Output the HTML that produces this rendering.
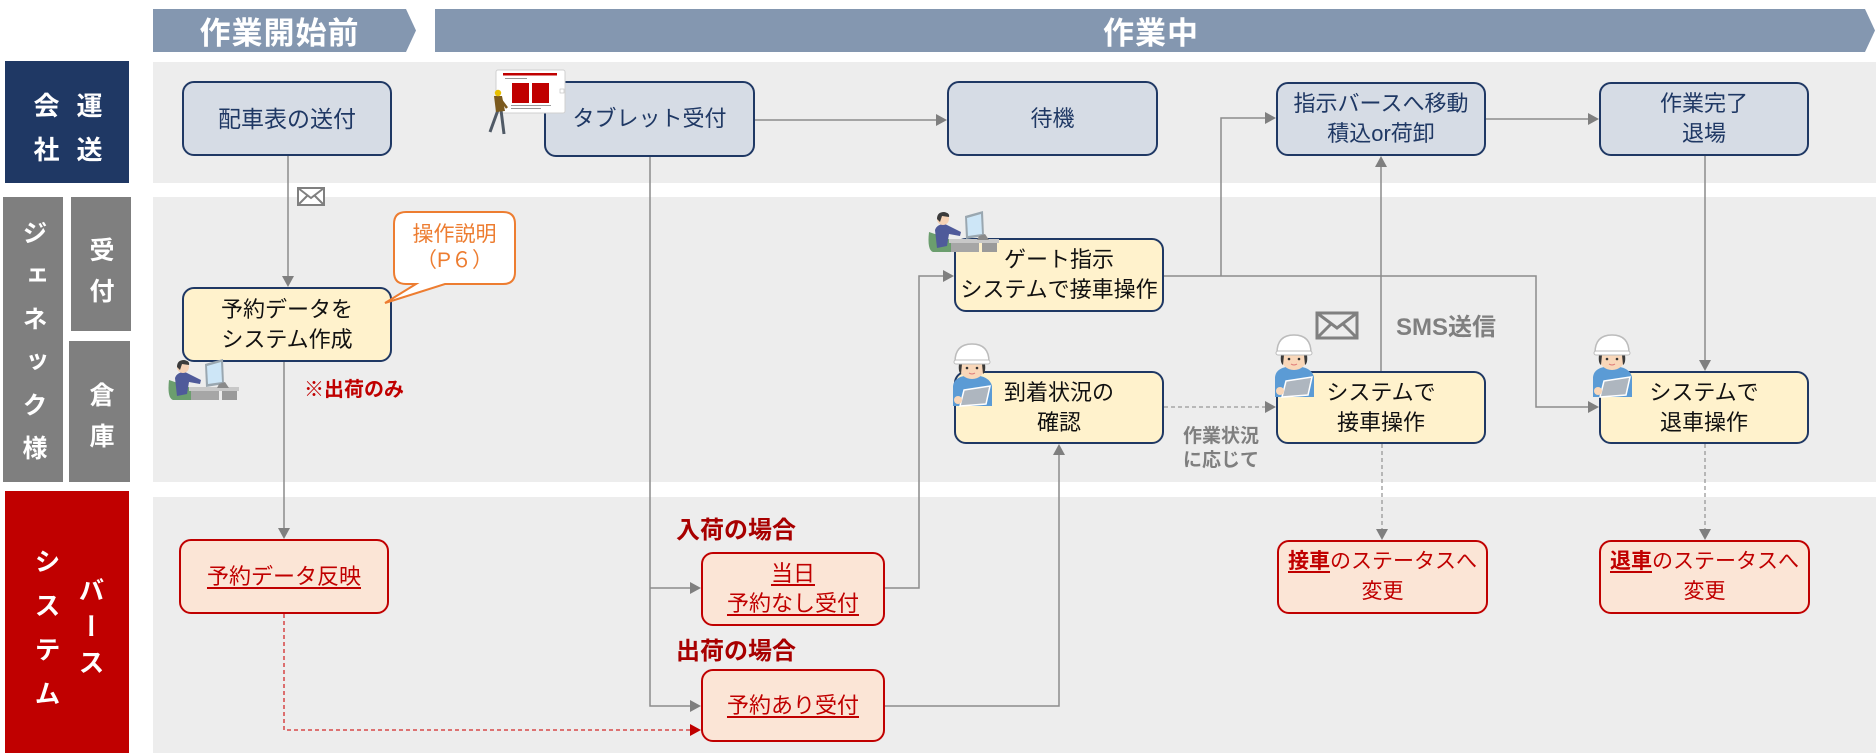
<!DOCTYPE html>
<html><head><meta charset="utf-8">
<style>
*{margin:0;padding:0;box-sizing:border-box}
body{width:1876px;height:753px;background:#fff;position:relative;overflow:hidden;font-family:"Liberation Sans","Noto Sans CJK JP",sans-serif}
.lane{position:absolute;background:#EDEDED;left:153px;width:1723px}
.box{position:absolute}
.v{position:absolute;writing-mode:vertical-rl;color:#fff;font-weight:bold;font-size:25px;line-height:25px;width:25px;white-space:nowrap}
.n{position:absolute;border:2px solid #1F3864;border-radius:12px;display:flex;align-items:center;justify-content:center;text-align:center;font-size:22px;line-height:30px;white-space:nowrap}
.n1{background:#D6DCE5;color:#1F3864}
.n2{background:#FFF2CC;color:#111}
.n3{background:#FBE5D6;color:#C00000;border-color:#C00000}
.u{text-decoration:underline;text-underline-offset:3px;text-decoration-thickness:1.5px}
.t{position:absolute;white-space:nowrap}
svg{position:absolute;left:0;top:0}
</style></head>
<body>
<!-- lanes -->
<div class="lane" style="top:62px;height:121px"></div>
<div class="lane" style="top:197px;height:285px"></div>
<div class="lane" style="top:497px;height:256px"></div>

<!-- left labels -->
<div class="box" style="left:5px;top:61px;width:124px;height:122px;background:#1F3864"></div>
<div class="box" style="left:3px;top:197px;width:60px;height:285px;background:#7F7F7F"></div>
<div class="box" style="left:71px;top:197px;width:60px;height:134px;background:#7F7F7F"></div>
<div class="box" style="left:69px;top:341px;width:61px;height:141px;background:#7F7F7F"></div>
<div class="box" style="left:5px;top:491px;width:124px;height:262px;background:#C00000"></div>

<div class="v" style="left:75px;top:92px;font-size:26px;line-height:26px;width:26px;letter-spacing:18px">運送</div>
<div class="v" style="left:32px;top:92px;font-size:26px;line-height:26px;width:26px;letter-spacing:18px">会社</div>
<div class="v" style="left:20px;top:220px;letter-spacing:18px">ジェネック様</div>
<div class="v" style="left:87px;top:237px;letter-spacing:16px">受付</div>
<div class="v" style="left:87px;top:382px;letter-spacing:16px">倉庫</div>
<div class="v" style="left:77px;top:577px;font-size:26px;line-height:26px;width:26px;letter-spacing:10px">バース</div>
<div class="v" style="left:33px;top:548px;font-size:26px;line-height:26px;width:26px;letter-spacing:18px">システム</div>

<!-- header + connectors -->
<svg width="1876" height="753" viewBox="0 0 1876 753">
  <polygon points="153,9 406,9 416,30.5 406,52 153,52" fill="#8497B0"/>
  <polygon points="435,9 1865,9 1875,30.5 1865,52 435,52" fill="#8497B0"/>
  <g stroke="#8c8c8c" stroke-width="1.5" fill="none">
    <path d="M288 156 V277"/>
    <path d="M284 362 V529"/>
    <path d="M650 157 V706 H691"/>
    <path d="M650 588 H691"/>
    <path d="M885 588 H919 V276 H944"/>
    <path d="M885 706 H1059 V455"/>
    <path d="M755 120 H937"/>
    <path d="M1164 276 H1536 V407 H1589"/>
    <path d="M1221 276 V118 H1266"/>
    <path d="M1486 119 H1589"/>
    <path d="M1381 371 V167"/>
    <path d="M1705 156 V360"/>
  </g>
  <g stroke="#999" stroke-width="1.3" stroke-dasharray="4 3" fill="none">
    <path d="M1164 407 H1266"/>
    <path d="M1382 444 V530"/>
    <path d="M1705 444 V530"/>
  </g>
  <path d="M284 614 V730 H691" stroke="#D42A2A" stroke-width="1.3" stroke-dasharray="4 3" fill="none"/>
  <g fill="#7f7f7f">
    <polygon points="282,276 288,287 294,276"/>
    <polygon points="278,528 284,539 290,528"/>
    <polygon points="690,700 701,706 690,712"/>
    <polygon points="690,582 701,588 690,594"/>
    <polygon points="943,270 954,276 943,282"/>
    <polygon points="1053,455 1059,444 1065,455"/>
    <polygon points="936,114 947,120 936,126"/>
    <polygon points="1588,401 1599,407 1588,413"/>
    <polygon points="1265,112 1276,118 1265,124"/>
    <polygon points="1588,113 1599,119 1588,125"/>
    <polygon points="1375,167 1381,156 1387,167"/>
    <polygon points="1699,360 1705,371 1711,360"/>
    <polygon points="1265,401 1276,407 1265,413"/>
    <polygon points="1376,529 1382,540 1388,529"/>
    <polygon points="1699,529 1705,540 1711,529"/>
  </g>
  <polygon points="690,724 701,730 690,736" fill="#C00000"/>
  <!-- envelopes -->
  <g fill="#fff" stroke="#808080" stroke-width="2">
    <rect x="298" y="188" width="26" height="17"/>
    <path d="M298 188 L311 198 L324 188 M298 205 L307 196 M324 205 L315 196" fill="none"/>
  </g>
  <g fill="#EDEDED" stroke="#808080" stroke-width="3">
    <rect x="1317" y="313" width="40" height="25"/>
    <path d="M1317 313 L1337 328 L1357 313 M1317 338 L1331 324 M1357 338 L1343 324" fill="none"/>
  </g>
</svg>

<div class="t" style="left:153px;top:9px;width:253px;height:43px;display:flex;align-items:center;justify-content:center;color:#fff;font-weight:bold;font-size:31px;letter-spacing:1px">作業開始前</div>
<div class="t" style="left:435px;top:9px;width:1432px;height:43px;display:flex;align-items:center;justify-content:center;color:#fff;font-weight:bold;font-size:31px;letter-spacing:1px">作業中</div>

<!-- lane 1 nodes -->
<div class="n n1" style="left:182px;top:81px;width:210px;height:75px;font-size:23px">配車表の送付</div>
<div class="n n1" style="left:544px;top:81px;width:211px;height:76px">タブレット受付</div>
<div class="n n1" style="left:947px;top:81px;width:211px;height:75px">待機</div>
<div class="n n1" style="left:1276px;top:82px;width:210px;height:74px">指示バースへ移動<br>積込or荷卸</div>
<div class="n n1" style="left:1599px;top:82px;width:210px;height:74px">作業完了<br>退場</div>

<!-- lane 2 nodes -->
<div class="n n2" style="left:182px;top:287px;width:210px;height:75px">予約データを<br>システム作成</div>
<div class="n n2" style="left:954px;top:238px;width:210px;height:74px">ゲート指示<br>システムで接車操作</div>
<div class="n n2" style="left:954px;top:371px;width:210px;height:73px">到着状況の<br>確認</div>
<div class="n n2" style="left:1276px;top:371px;width:210px;height:73px">システムで<br>接車操作</div>
<div class="n n2" style="left:1599px;top:371px;width:210px;height:73px">システムで<br>退車操作</div>

<!-- lane 3 nodes -->
<div class="n n3" style="left:179px;top:539px;width:210px;height:75px"><span class="u">予約データ反映</span></div>
<div class="n n3" style="left:701px;top:552px;width:184px;height:74px"><div><span class="u">当日</span><br><span class="u">予約なし受付</span></div></div>
<div class="n n3" style="left:701px;top:669px;width:184px;height:73px"><span class="u">予約あり受付</span></div>
<div class="n n3" style="left:1277px;top:540px;width:211px;height:74px;font-size:21px"><div><span class="u" style="font-weight:bold">接車</span>のステータスへ<br>変更</div></div>
<div class="n n3" style="left:1599px;top:540px;width:211px;height:74px;font-size:21px"><div><span class="u" style="font-weight:bold">退車</span>のステータスへ<br>変更</div></div>

<!-- labels -->
<div class="t" style="left:304px;top:379px;font-size:20px;line-height:22px;font-weight:bold;color:#C00000">※出荷のみ</div>
<div class="t" style="left:676px;top:518px;font-size:24px;line-height:26px;font-weight:bold;color:#A80000">入荷の場合</div>
<div class="t" style="left:676px;top:639px;font-size:24px;line-height:26px;font-weight:bold;color:#A80000">出荷の場合</div>
<div class="t" style="left:1396px;top:314px;font-size:24px;line-height:27px;font-weight:bold;color:#7F7F7F">SMS送信</div>
<div class="t" style="left:1161px;top:425px;width:120px;text-align:center;font-size:19px;line-height:24px;font-weight:bold;color:#7F7F7F">作業状況<br>に応じて</div>

<!-- callout + icons -->
<svg width="1876" height="753" viewBox="0 0 1876 753">
  <path d="M406 212 H503 Q515 212 515 224 V272 Q515 284 503 284 H445 L385 303 L416 284 H406 Q394 284 394 272 V224 Q394 212 406 212 Z" fill="#fff" stroke="#ED7D31" stroke-width="2"/>

  <!-- tablet walker -->
  <g>
    <rect x="496" y="70" width="69" height="43" rx="2" fill="#fff" stroke="#d0d0d0"/>
    <rect x="503" y="73" width="54" height="2.5" fill="#C00000"/>
    <rect x="505" y="78" width="22" height="1" fill="#999"/>
    <rect x="512" y="83" width="17" height="20" fill="#C00000"/>
    <rect x="532" y="83" width="17" height="20" fill="#C00000"/>
    <rect x="511" y="105" width="40" height="1" fill="#999"/>
    <rect x="511" y="108" width="30" height="1" fill="#999"/>
    <rect x="560" y="89" width="4" height="4" fill="#fff" stroke="#bbb" stroke-width="0.6"/>
    <path d="M498 110 L490 132 M501 110 L504 134" stroke="#505A66" stroke-width="3" fill="none"/>
    <path d="M494 96 L502 96 L505 111 L496 112Z" fill="#7B5A1E"/>
    <path d="M501 100 L507 108" stroke="#7B5A1E" stroke-width="2.5"/>
    <circle cx="498" cy="93" r="3.2" fill="#E8C000"/>
  </g>

  <!-- PC workers -->
  <g id="pc1" transform="translate(167,358)">
    <path d="M2 22 Q0 40 6 42 H26 L24 30 Q14 26 2 22Z" fill="#6B9E6E"/>
    <rect x="22" y="29" width="50" height="4" fill="#C8C8C8"/>
    <rect x="24" y="33" width="28" height="9" fill="#A6A6A6"/>
    <rect x="55" y="33" width="15" height="9" fill="#9a9a9a"/>
    <path d="M38 6 L56 1 L57 26 L39 29 Z" fill="#9AA7B0"/>
    <path d="M40 8 L54 4 L55 24 L41 26 Z" fill="#CDE6F7"/>
    <path d="M52 26 L58 24 L62 30 L50 30Z" fill="#8a8a8a"/>
    <path d="M8 20 Q10 14 18 14 L22 16 L34 22 L33 26 L22 24 L20 36 L10 38 Z" fill="#4F5A9A"/>
    <circle cx="16" cy="9" r="6" fill="#F6D2B5"/>
    <path d="M10 9 Q10 2 17 2 Q23 3 22 7 L15 6 L13 12 Z" fill="#3B3B3B"/>
  </g>
  <g transform="translate(927,210)">
    <path d="M2 22 Q0 40 6 42 H26 L24 30 Q14 26 2 22Z" fill="#6B9E6E"/>
    <rect x="22" y="29" width="50" height="4" fill="#C8C8C8"/>
    <rect x="24" y="33" width="28" height="9" fill="#A6A6A6"/>
    <rect x="55" y="33" width="15" height="9" fill="#9a9a9a"/>
    <path d="M38 6 L56 1 L57 26 L39 29 Z" fill="#9AA7B0"/>
    <path d="M40 8 L54 4 L55 24 L41 26 Z" fill="#CDE6F7"/>
    <path d="M52 26 L58 24 L62 30 L50 30Z" fill="#8a8a8a"/>
    <path d="M8 20 Q10 14 18 14 L22 16 L34 22 L33 26 L22 24 L20 36 L10 38 Z" fill="#4F5A9A"/>
    <circle cx="16" cy="9" r="6" fill="#F6D2B5"/>
    <path d="M10 9 Q10 2 17 2 Q23 3 22 7 L15 6 L13 12 Z" fill="#3B3B3B"/>
  </g>

  <!-- helmet workers -->
  <g transform="translate(950,342)">
    <path d="M3 44 Q4 36 14 34 H30 Q40 36 42 44 V64 H3Z" fill="#5B9BD5"/>
    <ellipse cx="22" cy="25" rx="13" ry="12" fill="#F9D7B9"/>
    <path d="M9 22 Q8 30 11 32 L12 22Z" fill="#3a3a3a"/>
    <path d="M35 22 Q36 30 33 32 L32 22Z" fill="#3a3a3a"/>
    <path d="M5 20 Q5 2 22 2 Q39 2 39 20 Z" fill="#fff" stroke="#bcbcbc" stroke-width="1.5"/>
    <rect x="4" y="18" width="36" height="4" rx="2" fill="#fff" stroke="#bcbcbc"/>
    <circle cx="17" cy="26" r="1.3" fill="#333"/><circle cx="27" cy="26" r="1.3" fill="#333"/>
    <path d="M19 31 Q22 33 25 31" stroke="#d77" fill="none"/>
    <path d="M14 48 L40 44 L36 62 L10 64Z" fill="#AEB6BF" stroke="#fff" stroke-width="1.5"/>
    <circle cx="8" cy="58" r="4" fill="#F9D7B9"/>
  </g>
  <g transform="translate(1272,333)">
    <path d="M3 44 Q4 36 14 34 H30 Q40 36 42 44 V64 H3Z" fill="#5B9BD5"/>
    <ellipse cx="22" cy="25" rx="13" ry="12" fill="#F9D7B9"/>
    <path d="M9 22 Q8 30 11 32 L12 22Z" fill="#3a3a3a"/>
    <path d="M35 22 Q36 30 33 32 L32 22Z" fill="#3a3a3a"/>
    <path d="M5 20 Q5 2 22 2 Q39 2 39 20 Z" fill="#fff" stroke="#bcbcbc" stroke-width="1.5"/>
    <rect x="4" y="18" width="36" height="4" rx="2" fill="#fff" stroke="#bcbcbc"/>
    <circle cx="17" cy="26" r="1.3" fill="#333"/><circle cx="27" cy="26" r="1.3" fill="#333"/>
    <path d="M19 31 Q22 33 25 31" stroke="#d77" fill="none"/>
    <path d="M14 48 L40 44 L36 62 L10 64Z" fill="#AEB6BF" stroke="#fff" stroke-width="1.5"/>
    <circle cx="8" cy="58" r="4" fill="#F9D7B9"/>
  </g>
  <g transform="translate(1590,333)">
    <path d="M3 44 Q4 36 14 34 H30 Q40 36 42 44 V64 H3Z" fill="#5B9BD5"/>
    <ellipse cx="22" cy="25" rx="13" ry="12" fill="#F9D7B9"/>
    <path d="M9 22 Q8 30 11 32 L12 22Z" fill="#3a3a3a"/>
    <path d="M35 22 Q36 30 33 32 L32 22Z" fill="#3a3a3a"/>
    <path d="M5 20 Q5 2 22 2 Q39 2 39 20 Z" fill="#fff" stroke="#bcbcbc" stroke-width="1.5"/>
    <rect x="4" y="18" width="36" height="4" rx="2" fill="#fff" stroke="#bcbcbc"/>
    <circle cx="17" cy="26" r="1.3" fill="#333"/><circle cx="27" cy="26" r="1.3" fill="#333"/>
    <path d="M19 31 Q22 33 25 31" stroke="#d77" fill="none"/>
    <path d="M14 48 L40 44 L36 62 L10 64Z" fill="#AEB6BF" stroke="#fff" stroke-width="1.5"/>
    <circle cx="8" cy="58" r="4" fill="#F9D7B9"/>
  </g>
</svg>

<div class="t" style="left:394px;top:222px;width:121px;text-align:center;font-size:21px;line-height:26px;color:#ED7D31">操作説明<br>（P６）</div>

</body></html>
